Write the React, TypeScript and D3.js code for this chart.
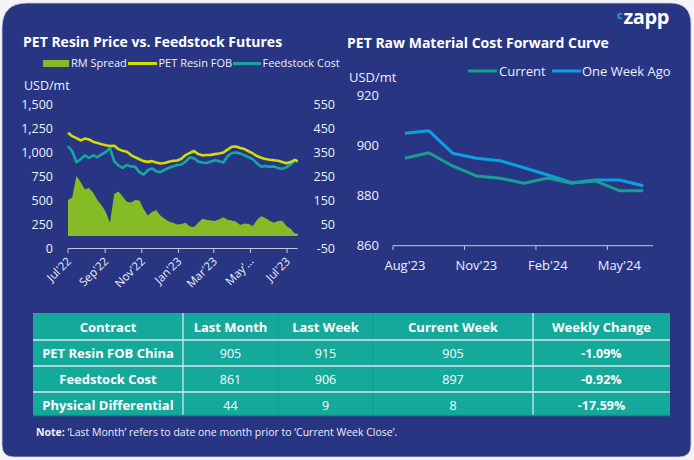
import React from "react";
import * as d3 from "d3";

// ---------- Left chart data (weekly) ----------
const dates = [
  "2022-07-01","2022-07-08","2022-07-15","2022-07-22","2022-07-29","2022-08-05","2022-08-12","2022-08-19",
  "2022-08-26","2022-09-02","2022-09-09","2022-09-16","2022-09-23","2022-09-30","2022-10-07","2022-10-14",
  "2022-10-21","2022-10-28","2022-11-04","2022-11-11","2022-11-18","2022-11-25","2022-12-02","2022-12-09",
  "2022-12-16","2022-12-23","2022-12-30","2023-01-06","2023-01-13","2023-01-20","2023-01-27","2023-02-03",
  "2023-02-10","2023-02-17","2023-02-24","2023-03-03","2023-03-10","2023-03-17","2023-03-24","2023-03-31",
  "2023-04-07","2023-04-14","2023-04-21","2023-04-28","2023-05-05","2023-05-12","2023-05-19","2023-05-26",
  "2023-06-02","2023-06-09","2023-06-16","2023-06-23","2023-06-30","2023-07-07","2023-07-14","2023-07-19",
];
const rmSpread = [
  150,160,250,225,195,200,180,150,128,100,55,175,185,165,143,140,
  150,148,112,85,100,108,85,72,60,55,48,50,55,40,38,55,
  72,68,65,62,70,78,68,65,60,46,52,50,42,68,82,75,
  64,55,62,65,42,30,10,10,
];
const petResinFob = [
  1200,1165,1145,1120,1140,1130,1108,1095,1080,1070,1062,1065,1030,1012,1003,968,
  945,925,905,897,905,890,880,885,898,908,912,930,968,990,1010,978,
  965,968,970,978,985,995,1025,1055,1058,1042,1030,1008,985,958,
  940,928,920,915,908,895,882,895,918,905,
];
const feedstockCost = [
  1060,1010,895,925,965,940,965,945,975,1000,1040,905,860,835,865,850,
  845,790,765,810,830,800,790,815,835,850,865,870,900,945,935,900,
  890,885,900,915,905,890,955,990,995,985,965,945,925,880,
  848,855,845,850,832,825,840,870,910,897,
];
const leftTicks = [0, 250, 500, 750, 1000, 1250, 1500];
const rightTicks = [-50, 50, 150, 250, 350, 450, 550];
const leftXTickDates = ["2022-07-01","2022-09-01","2022-11-01","2023-01-01","2023-03-01","2023-05-01","2023-07-01"];
const leftXTickLabels = ["Jul'22","Sep'22","Nov'22","Jan'23","Mar'23","May'…","Jul'23"];

// ---------- Right chart data ----------
const curveMonths = ["Aug'23","Sep'23","Oct'23","Nov'23","Dec'23","Jan'24","Feb'24","Mar'24","Apr'24","May'24","Jun'24"];
const currentCurve = [895.0, 897.2, 891.9, 887.9, 887.0, 885.0, 887.1, 885.0, 885.9, 882.0, 882.0];
const oneWeekAgoCurve = [905.0, 906.0, 897.0, 895.0, 894.0, 891.2, 888.3, 885.2, 886.3, 886.3, 884.0];
const curveTickMonths = ["Aug'23","Nov'23","Feb'24","May'24"];
const curveYTicks = [860, 880, 900, 920];

// ---------- Table data ----------
const tableHeaders = ["Contract","Last Month","Last Week","Current Week","Weekly Change"];
const contracts = ["PET Resin FOB China","Feedstock Cost","Physical Differential"];
const lastMonth = [905, 861, 44];
const lastWeek = [915, 906, 9];
const currentWeek = [905, 897, 8];
const weeklyChange = ["-1.09%","-0.92%","-17.59%"];

const BG = "#283583";
const TXT = "#eef0fa";
const AXIS = "#c3c8de";
const YELLOW = "#d2dc05";
const TEAL = "#17a6a2";
const GREEN = "#84bb26";
const CUR = "#16a08f";
const WEEK = "#0aa0e2";
const TABLE = "#15a99c";
const FONT = "'Open Sans', 'Noto Sans', sans-serif";

export default function App() {
  const parse = d3.timeParse("%Y-%m-%d");
  const ds = dates.map((d) => parse(d) as Date);

  // left chart scales
  const x = d3.scaleTime().domain([parse("2022-07-01") as Date, parse("2023-07-01") as Date]).range([68, 287]);
  const yL = d3.scaleLinear().domain([0, 1500]).range([248, 104]);
  const yR = d3.scaleLinear().domain([-50, 550]).range([248, 104]);

  const area = d3.area<number>().x((_, i) => x(ds[i])).y0(yR(0)).y1((v) => yR(v));
  const lineL = d3.line<number>().x((_, i) => x(ds[i])).y((v) => yL(v));

  // right chart scales
  const xb = d3.scaleBand<string>().domain(curveMonths).range([393, 655]).padding(0);
  const yC = d3.scaleLinear().domain([860, 920]).range([245.7, 95.7]);
  const lineC = d3.line<number>().x((_, i) => (xb(curveMonths[i]) as number) + xb.bandwidth() / 2).y((v) => yC(v));

  const xEnd = x(ds[ds.length - 1]);

  // table layout
  const colX = [33, 183, 278, 373, 533, 670];
  const rowY = [313, 340, 366, 392, 416];
  const rows = contracts.map((c, i) => [c, String(lastMonth[i]), String(lastWeek[i]), String(currentWeek[i]), weeklyChange[i]]);

  return (
    <div style={{ position: "fixed", left: 0, top: 0 }}>
      <svg width={694} height={460} style={{ display: "block", fontFamily: FONT }}>
        <rect x={0} y={0} width={694} height={460} fill="#f4f4f6" />
        <path
          d="M2,28 Q2,3 27,3 L670,3 Q691,3 691,24 L691,445 Q691,457 679,457 L14,457 Q2,457 2,445 Z"
          fill={BG}
          stroke="#cfd0d6"
          strokeWidth={0.8}
        />
        {/* logo */}
        <text x={617} y={19} fontSize={11} fontWeight={700} fill="#1aa7e8">c</text>
        <text x={623.5} y={23.5} fontSize={20} fontWeight={700} fill="#ffffff" letterSpacing={-0.4}>zapp</text>

        {/* ---------- Left chart ---------- */}
        <text x={23} y={47} fontSize={14} fontWeight={700} fill="#ffffff">PET Resin Price vs. Feedstock Futures</text>
        {/* legend */}
        <rect x={43} y={60} width={26} height={7} fill={GREEN} />
        <text x={71} y={67} fontSize={11} fill={TXT}>RM Spread</text>
        <line x1={128} x2={157} y1={63.5} y2={63.5} stroke={YELLOW} strokeWidth={3} />
        <text x={158.5} y={67} fontSize={11} fill={TXT}>PET Resin FOB</text>
        <line x1={233} x2={261} y1={63.5} y2={63.5} stroke={TEAL} strokeWidth={3} />
        <text x={262.5} y={67} fontSize={11} fill={TXT}>Feedstock Cost</text>

        <text x={24} y={90} fontSize={12.5} fill={TXT}>USD/mt</text>
        {leftTicks.map((t) => (
          <text key={"l" + t} x={53} y={yL(t) + 4.5} fontSize={12.5} textAnchor="end" fill={TXT}>
            {d3.format(",")(t)}
          </text>
        ))}
        {rightTicks.map((t) => (
          <text key={"r" + t} x={335} y={yR(t) + 4.5} fontSize={12.5} textAnchor="end" fill={TXT}>
            {t}
          </text>
        ))}
        <path d={area(rmSpread) || ""} fill={GREEN} />
        <path d={lineL(feedstockCost) || ""} fill="none" stroke={TEAL} strokeWidth={2.6} strokeLinejoin="round" />
        <path d={lineL(petResinFob) || ""} fill="none" stroke={YELLOW} strokeWidth={2.6} strokeLinejoin="round" />

        <line x1={68} x2={xEnd} y1={248.5} y2={248.5} stroke={AXIS} strokeWidth={1} />
        {leftXTickDates.map((d, i) => {
          const tx = x(parse(d) as Date);
          return (
            <g key={d}>
              <line x1={tx} x2={tx} y1={248.5} y2={253} stroke={AXIS} strokeWidth={1} />
              <text
                x={tx + 4}
                y={262}
                fontSize={11.5}
                fill={TXT}
                textAnchor="end"
                transform={`rotate(-45 ${tx + 4} ${262})`}
              >
                {leftXTickLabels[i]}
              </text>
            </g>
          );
        })}

        {/* ---------- Right chart ---------- */}
        <text x={347} y={48} fontSize={14} fontWeight={700} fill="#ffffff">PET Raw Material Cost Forward Curve</text>
        <line x1={468} x2={497} y1={71} y2={71} stroke={CUR} strokeWidth={3} />
        <text x={499} y={75.5} fontSize={13} fill={TXT}>Current</text>
        <line x1={552} x2={581} y1={71} y2={71} stroke={WEEK} strokeWidth={3} />
        <text x={582} y={75.5} fontSize={13} fill={TXT}>One Week Ago</text>
        <text x={349} y={82} fontSize={13} fill={TXT}>USD/mt</text>
        {curveYTicks.map((t) => (
          <text key={"c" + t} x={379} y={yC(t) + 4.5} fontSize={13} textAnchor="end" fill={TXT}>
            {t}
          </text>
        ))}
        <path d={lineC(oneWeekAgoCurve) || ""} fill="none" stroke={WEEK} strokeWidth={3} strokeLinejoin="round" />
        <path d={lineC(currentCurve) || ""} fill="none" stroke={CUR} strokeWidth={3} strokeLinejoin="round" />
        <line x1={393} x2={653} y1={245.7} y2={245.7} stroke={AXIS} strokeWidth={1} />
        {curveTickMonths.map((m) => {
          const bx = xb(m) as number;
          return (
            <g key={m}>
              <line x1={bx} x2={bx} y1={245.7} y2={250} stroke={AXIS} strokeWidth={1} />
              <text x={bx + xb.bandwidth() / 2} y={269.5} fontSize={13} textAnchor="middle" fill={TXT}>
                {m}
              </text>
            </g>
          );
        })}

        {/* ---------- Table ---------- */}
        <rect x={colX[0]} y={rowY[0]} width={colX[5] - colX[0]} height={rowY[4] - rowY[0]} fill={TABLE} />
        {[2, 3].map((c) => (
          <line key={"v" + c} x1={colX[c]} x2={colX[c]} y1={rowY[0]} y2={rowY[4]} stroke="#0f9c8f" strokeWidth={1} />
        ))}
        {[1, 4].map((c) => (
          <line key={"w" + c} x1={colX[c]} x2={colX[c]} y1={rowY[0]} y2={rowY[4]} stroke="#e4ecf0" strokeWidth={1.2} />
        ))}
        {[1, 2, 3].map((r) => (
          <line key={"h" + r} x1={colX[0]} x2={colX[5]} y1={rowY[r]} y2={rowY[r]} stroke="#dfe7ee" strokeWidth={1.5} />
        ))}
        <line x1={colX[0]} x2={colX[5]} y1={rowY[4] - 0.5} y2={rowY[4] - 0.5} stroke="#0e8e83" strokeWidth={1.5} />
        {tableHeaders.map((h, c) => (
          <text key={h} x={(colX[c] + colX[c + 1]) / 2} y={rowY[0] + 19} fontSize={13} fontWeight={700} textAnchor="middle" fill="#ffffff">
            {h}
          </text>
        ))}
        {rows.map((row, r) =>
          row.map((cell, c) => (
            <text
              key={r + "-" + c}
              x={(colX[c] + colX[c + 1]) / 2}
              y={rowY[r + 1] + 18}
              fontSize={c === 0 ? 13 : 12.5}
              fontWeight={c === 0 || c === 4 ? 700 : 400}
              textAnchor="middle"
              fill="#ffffff"
            >
              {cell}
            </text>
          ))
        )}
        <text x={36} y={436} fontSize={10.5} fill={TXT}>
          <tspan fontWeight={700}>Note:</tspan>
          <tspan> ‘Last Month’ refers to date one month prior to ‘Current Week Close’.</tspan>
        </text>
      </svg>
    </div>
  );
}
